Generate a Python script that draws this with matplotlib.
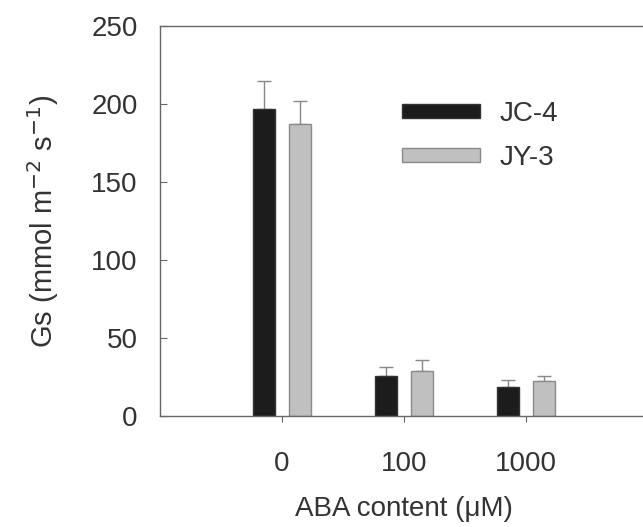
import matplotlib
matplotlib.use("Agg", force=True)
import matplotlib.pyplot as plt
import numpy as np
from matplotlib.patches import Patch

plt.rcParams["font.family"] = ["Liberation Sans", "DejaVu Sans"]

categories = ["0", "100", "1000"]
series = ["JC-4", "JY-3"]
jc4_mean = [196.5, 25.6, 18.8]
jc4_err = [18.5, 5.8, 4.1]
jy3_mean = [187.0, 29.0, 22.4]
jy3_err = [15.0, 6.9, 3.2]
y_ticks = [0, 50, 100, 150, 200, 250]

text_color = "#333333"
axis_color = "#666666"

fig = plt.figure(figsize=(6.43, 5.27), dpi=100)
ax = fig.add_axes([0.2488, 0.2106, 0.7590, 0.7401])

x = np.arange(len(categories))
offset = 0.148
width = 0.178

ax.bar(x - offset, jc4_mean, width, color="#1c1c1c", edgecolor="#333333", linewidth=1.0, zorder=2)
ax.bar(x + offset, jy3_mean, width, color="#c0c0c0", edgecolor="#8a8a8a", linewidth=1.0, zorder=2)
ax.errorbar(x - offset, jc4_mean, yerr=[np.zeros(3), jc4_err], fmt="none",
            ecolor="#888888", elinewidth=1.0, capsize=5, capthick=1.0, zorder=1)
ax.errorbar(x + offset, jy3_mean, yerr=[np.zeros(3), jy3_err], fmt="none",
            ecolor="#888888", elinewidth=1.0, capsize=5, capthick=1.0, zorder=1)

ax.set_xlim(-1, 3)
ax.set_ylim(0, 250)
ax.set_xticks(x)
ax.set_xticklabels(categories)
ax.set_yticks(y_ticks)

for side in ["left", "top", "bottom", "right"]:
    ax.spines[side].set_color(axis_color)
    ax.spines[side].set_linewidth(1.0)
ax.spines["right"].set_visible(False)

ax.tick_params(axis="y", direction="in", length=5, color=axis_color, pad=16,
               labelsize=20, labelcolor=text_color)
ax.tick_params(axis="x", direction="out", length=4, color=axis_color, pad=21,
               labelsize=20, labelcolor=text_color)

ax.set_ylabel("Gs (mmol m$^{-2}$ s$^{-1}$)", fontsize=21, color=text_color, labelpad=22)
ax.set_xlabel("ABA content (\u03bcM)", fontsize=20, color=text_color, labelpad=14)

handles = [Patch(facecolor="#1c1c1c", edgecolor="#333333"),
           Patch(facecolor="#c0c0c0", edgecolor="#8a8a8a")]
leg = ax.legend(handles, series, loc="upper left", bbox_to_anchor=(0.496, 0.808),
                frameon=False, fontsize=20, handlelength=2.8, handleheight=0.45,
                handletextpad=0.7, labelspacing=0.65, borderpad=0, borderaxespad=0)
for t in leg.get_texts():
    t.set_color(text_color)

fig.savefig("out.png", dpi=100)
